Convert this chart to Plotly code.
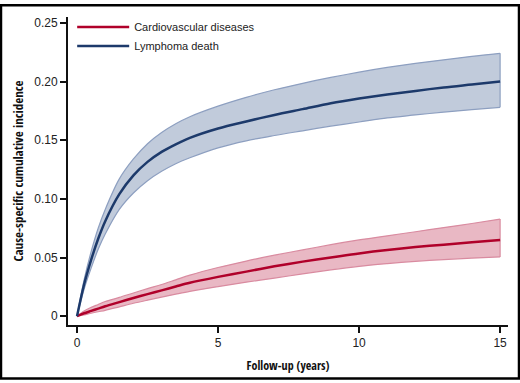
import plotly.graph_objects as go

# follow-up time (years)
years = [0, 0.25, 0.5, 0.75, 1, 1.5, 2, 2.5, 3, 3.5, 4, 5, 6, 7, 8, 9, 10, 11, 12, 13, 14, 15]

# Lymphoma death
lymph = [0, 0.027, 0.048, 0.066, 0.081, 0.104, 0.120, 0.1315, 0.140, 0.1465, 0.152, 0.160,
         0.166, 0.1715, 0.1765, 0.1815, 0.1855, 0.189, 0.192, 0.195, 0.1975, 0.200]
lymph_hi = [0, 0.031, 0.055, 0.075, 0.091, 0.117, 0.134, 0.147, 0.1565, 0.164, 0.170, 0.179,
            0.1865, 0.193, 0.1985, 0.2035, 0.208, 0.212, 0.2155, 0.2185, 0.2215, 0.224]
lymph_lo = [0, 0.023, 0.041, 0.057, 0.070, 0.091, 0.105, 0.1155, 0.1235, 0.130, 0.135, 0.1435,
            0.1495, 0.154, 0.158, 0.162, 0.1655, 0.169, 0.1715, 0.174, 0.176, 0.178]

# Cardiovascular diseases
cvd = [0, 0.0025, 0.0045, 0.0065, 0.0085, 0.012, 0.0155, 0.0188, 0.022, 0.0253, 0.0285, 0.0335,
       0.038, 0.0425, 0.0465, 0.050, 0.0535, 0.0565, 0.059, 0.061, 0.063, 0.065]
cvd_hi = [0, 0.0045, 0.0075, 0.010, 0.0125, 0.016, 0.0198, 0.0235, 0.027, 0.031, 0.035, 0.0415,
          0.047, 0.052, 0.0565, 0.061, 0.065, 0.0685, 0.072, 0.0755, 0.079, 0.0828]
cvd_lo = [0, 0.001, 0.0025, 0.0038, 0.005, 0.008, 0.011, 0.0137, 0.0163, 0.0188, 0.0212, 0.0252,
          0.029, 0.0325, 0.036, 0.0395, 0.0425, 0.0448, 0.0468, 0.0483, 0.0495, 0.0505]

y_ticks = [0, 0.05, 0.10, 0.15, 0.20, 0.25]
y_ticktext = ["0", "0.05", "0.10", "0.15", "0.20", "0.25"]
x_ticks = [0, 5, 10, 15]

BLUE = "#1d3a6b"
BLUE_FILL = "rgba(160,175,200,0.65)"
BLUE_EDGE = "#8d9fc0"
RED = "#b0002a"
RED_FILL = "rgba(215,125,148,0.55)"
RED_EDGE = "#d98ba0"

fig = go.Figure()


def band(lo, hi, fill, edge):
    fig.add_trace(go.Scatter(x=years, y=lo, mode="lines", line=dict(color=edge, width=1.2, shape="spline", smoothing=0.9),
                             showlegend=False, hoverinfo="skip"))
    fig.add_trace(go.Scatter(x=years, y=hi, mode="lines", line=dict(color=edge, width=1.2, shape="spline", smoothing=0.9),
                             fill="tonexty", fillcolor=fill, showlegend=False, hoverinfo="skip"))
    # closing edge at the end
    fig.add_trace(go.Scatter(x=[years[-1], years[-1]], y=[lo[-1], hi[-1]], mode="lines",
                             line=dict(color=edge, width=1.2), showlegend=False, hoverinfo="skip"))


band(lymph_lo, lymph_hi, BLUE_FILL, BLUE_EDGE)
band(cvd_lo, cvd_hi, RED_FILL, RED_EDGE)

fig.add_trace(go.Scatter(x=years, y=cvd, mode="lines", name="Cardiovascular diseases",
                         line=dict(color=RED, width=2.5, shape="spline", smoothing=0.9)))
fig.add_trace(go.Scatter(x=years, y=lymph, mode="lines", name="Lymphoma death",
                         line=dict(color=BLUE, width=2.5, shape="spline", smoothing=0.9)))

tick_font = dict(family="Liberation Sans, Arial, sans-serif", size=12, color="#222")
title_family = "Open Sans Condensed, Liberation Sans Narrow, Arial Narrow, DejaVu Sans Condensed, sans-serif"

fig.update_layout(
    width=520, height=383,
    margin=dict(l=68, r=12, t=13, b=56),
    paper_bgcolor="white", plot_bgcolor="white",
    showlegend=True,
    legend=dict(x=0.0095, y=1.015, xanchor="left", yanchor="top", bgcolor="rgba(0,0,0,0)",
                font=dict(family="Liberation Sans, Arial, sans-serif", size=11, color="#222"),
                itemwidth=52, tracegroupgap=0, traceorder="normal"),
    xaxis=dict(range=[-0.32, 15.28], tickvals=x_ticks, showgrid=False, zeroline=False,
               showline=True, linecolor="#111", linewidth=2, ticks="outside", ticklen=6,
               tickcolor="#111", tickwidth=1.5, tickfont=tick_font,
               title=dict(text="Follow-up (years)", font=dict(family=title_family, size=12, color="#111"),
                          standoff=12)),
    yaxis=dict(range=[-0.0075, 0.255], tickvals=y_ticks, ticktext=y_ticktext, showgrid=False,
               zeroline=False, showline=True, linecolor="#111", linewidth=2, ticks="outside",
               ticklen=6, tickcolor="#111", tickwidth=1.5, tickfont=tick_font,
               title=dict(text="Cause-specific cumulative incidence",
                          font=dict(family=title_family, size=13, color="#111"), standoff=8)),
    shapes=[dict(type="rect", xref="paper", yref="paper", x0=-0.1523, x1=1.0250, y0=-0.1735, y1=1.0382,
                 line=dict(color="black", width=2.5), fillcolor="rgba(0,0,0,0)", layer="above")],
)

fig.write_html("out.html", config={"displayModeBar": False},
               post_script="document.body.style.margin='0';")
